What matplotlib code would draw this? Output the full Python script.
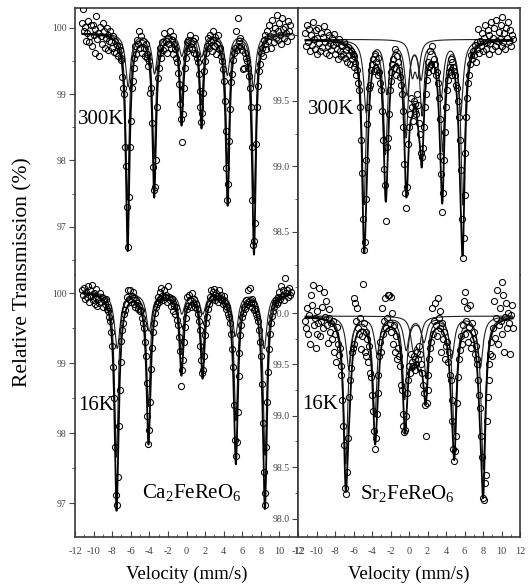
import numpy as np
import matplotlib
matplotlib.use("Agg")
import matplotlib.pyplot as plt
from matplotlib.ticker import MultipleLocator, FormatStrFormatter

plt.rcParams['font.family'] = ['Liberation Serif', 'DejaVu Serif']
plt.rcParams['mathtext.fontset'] = 'custom'
plt.rcParams['mathtext.rm'] = 'Liberation Serif'
plt.rcParams['mathtext.it'] = 'Liberation Serif'
plt.rcParams['axes.unicode_minus'] = False

# ---------------- channel velocity scale (mm/s) ----------------
vel_start = -11.2
vel_step = 0.1
n_channels = 225

# ---------------- measured spectra (relative transmission, %) ----------------
ca300_y = [
    100.08, 100.28, 99.95, 100.02, 99.80, 99.93, 100.10, 99.78, 99.88, 100.04,
    99.72, 100.05, 99.90, 99.62, 99.98, 100.18, 99.83, 99.92, 99.58, 100.02,
    99.88, 99.75, 100.08, 99.95, 99.70, 99.85, 100.00, 99.66, 99.90, 99.80,
    99.95, 99.78, 99.70, 99.88, 99.64, 99.80, 99.62, 99.74, 99.58, 99.72,
    99.66, 99.52, 99.55, 99.26, 99.10, 99.00, 98.20, 97.92, 97.30, 96.70,
    97.44, 98.20, 98.60, 99.10, 99.20, 99.40, 99.55, 99.72, 99.60, 99.82,
    99.75, 99.95, 99.70, 99.88, 99.62, 99.80, 99.70, 99.58, 99.76, 99.55,
    99.60, 99.42, 99.50, 99.02, 99.10, 98.56, 97.90, 97.55, 97.60, 98.00,
    98.80, 99.25, 99.40, 99.62, 99.70, 99.55, 99.78, 99.66, 99.92, 99.70,
    99.80, 99.62, 99.85, 99.76, 99.95, 99.70, 99.82, 99.60, 99.88, 99.75,
    99.68, 99.55, 99.48, 99.32, 99.15, 98.85, 98.62, 98.28, 98.70, 99.10,
    99.40, 99.55, 99.78, 99.65, 99.82, 99.70, 99.90, 99.75, 99.68, 99.80,
    99.62, 99.85, 99.60, 99.55, 99.48, 99.30, 99.05, 98.80, 98.58, 98.72,
    99.02, 99.35, 99.50, 99.62, 99.72, 99.85, 99.70, 99.90, 99.78, 99.65,
    99.82, 99.95, 99.72, 99.86, 99.60, 99.75, 99.90, 99.68, 99.70, 99.58,
    99.50, 99.38, 99.20, 98.90, 98.45, 97.88, 97.40, 97.65, 98.30, 98.78,
    99.18, 99.30, 99.52, 99.62, 99.70, 99.95, 99.66, 100.15, 99.80, 99.72,
    99.85, 99.72, 99.66, 99.38, 99.40, 99.62, 99.55, 99.50, 99.40, 99.28,
    99.10, 98.80, 98.20, 97.40, 96.72, 96.78, 97.05, 98.25, 98.80, 99.12,
    99.35, 99.45, 99.62, 99.70, 99.58, 99.82, 99.75, 99.90, 99.68, 99.95,
    99.80, 100.05, 99.88, 99.70, 100.12, 99.92, 99.78, 100.00, 99.85, 100.20,
    99.95, 99.82, 100.08, 99.90, 99.75, 100.15, 99.98, 99.85, 100.02, 99.92,
    99.80, 100.10, 99.95, 100.05, 99.88]

sr300_y = [
    100.02, 99.92, 100.08, 99.95, 100.05, 99.88, 100.00, 99.93, 100.10, 99.97,
    99.90, 100.04, 99.86, 99.98, 100.06, 99.94, 99.88, 100.02, 99.91, 99.99,
    100.07, 99.95, 99.87, 100.03, 99.92, 99.85, 100.00, 99.94, 99.89, 99.98,
    99.93, 100.01, 99.86, 99.95, 99.90, 99.82, 99.97, 99.88, 99.93, 99.84,
    99.92, 99.86, 99.95, 99.83, 99.89, 99.80, 99.91, 99.85, 99.78, 99.88,
    99.82, 99.86, 99.76, 99.84, 99.79, 99.70, 99.74, 99.64, 99.58, 99.45,
    99.20, 98.95, 98.60, 98.36, 98.42, 98.75, 99.05, 99.32, 99.45, 99.60,
    99.62, 99.74, 99.78, 99.82, 99.73, 99.86, 99.80, 99.74, 99.83, 99.70,
    99.72, 99.64, 99.58, 99.42, 99.20, 98.98, 98.86, 98.58, 99.15, 99.22,
    99.40, 99.58, 99.65, 99.72, 99.78, 99.82, 99.75, 99.90, 99.70, 99.84,
    99.80, 99.74, 99.68, 99.62, 99.55, 99.42, 99.30, 99.02, 98.80, 98.68,
    98.84, 99.17, 99.30, 99.40, 99.52, 99.45, 99.35, 99.50, 99.42, 99.48,
    99.40, 99.55, 99.47, 99.33, 99.25, 99.10, 99.07, 99.14, 99.30, 99.45,
    99.55, 99.66, 99.72, 99.80, 99.76, 99.88, 99.78, 99.92, 99.74, 99.82,
    99.78, 99.70, 99.72, 99.64, 99.52, 99.36, 99.08, 98.94, 98.65, 98.80,
    99.05, 99.26, 99.45, 99.58, 99.66, 99.72, 99.76, 99.82, 99.70, 99.80,
    99.76, 99.73, 99.70, 99.62, 99.60, 99.50, 99.38, 99.20, 98.97, 98.60,
    98.30, 98.45, 98.78, 99.10, 99.38, 99.52, 99.64, 99.70, 99.78, 99.85,
    99.82, 99.88, 99.85, 99.93, 99.80, 99.95, 99.90, 100.05, 99.87, 99.96,
    99.92, 100.02, 99.88, 99.98, 100.08, 99.90, 99.95, 100.04, 99.86, 100.00,
    99.94, 100.10, 99.90, 99.98, 100.06, 99.92, 100.12, 99.96, 99.88, 100.03,
    99.97, 100.08, 99.92, 100.14, 99.95, 100.02, 99.90, 100.06, 99.98, 100.10,
    99.95, 100.04, 99.92, 100.00, 99.97]

ca16_y = [
    100.05, 99.98, 100.08, 99.92, 100.02, 99.95, 100.10, 99.88, 100.04, 99.96,
    100.12, 99.90, 100.00, 99.85, 99.94, 100.06, 99.82, 99.92, 99.86, 100.00,
    99.88, 99.95, 99.80, 99.90, 99.84, 99.92, 99.78, 99.74, 99.80, 99.66,
    99.60, 99.45, 99.25, 98.95, 98.50, 97.80, 97.12, 96.98, 97.38, 98.10,
    98.62, 99.02, 99.32, 99.48, 99.58, 99.70, 99.76, 99.85, 99.95, 100.05,
    99.92, 100.05, 99.88, 99.96, 100.02, 99.85, 99.94, 99.80, 99.90, 99.86,
    99.78, 99.82, 99.74, 99.76, 99.65, 99.58, 99.50, 99.30, 99.10, 98.72,
    98.25, 97.85, 98.05, 98.45, 98.92, 99.22, 99.45, 99.58, 99.72, 99.80,
    99.85, 99.95, 99.88, 100.02, 99.92, 100.08, 99.96, 99.90, 100.05, 99.94,
    99.98, 99.88, 100.10, 99.95, 99.90, 99.82, 99.92, 99.86, 99.75, 99.82,
    99.70, 99.80, 99.62, 99.55, 99.38, 99.18, 98.68, 98.90, 99.05, 99.30,
    99.52, 99.65, 99.78, 99.95, 99.82, 99.98, 99.90, 99.80, 100.00, 99.86,
    99.92, 99.80, 99.85, 99.78, 99.70, 99.60, 99.48, 99.25, 99.05, 98.86,
    98.90, 99.10, 99.40, 99.58, 99.66, 99.78, 99.85, 99.95, 100.05, 99.92,
    100.02, 99.95, 100.06, 99.90, 100.00, 99.96, 99.88, 100.04, 99.92, 99.98,
    99.90, 99.84, 99.96, 99.86, 99.82, 99.78, 99.80, 99.70, 99.66, 99.58,
    99.42, 99.20, 98.95, 98.40, 97.90, 97.68, 97.88, 98.30, 98.82, 99.15,
    99.40, 99.55, 99.66, 99.72, 99.80, 99.78, 99.90, 99.85, 100.05, 99.88,
    100.08, 99.86, 99.92, 99.80, 99.86, 99.76, 99.78, 99.70, 99.66, 99.60,
    99.48, 99.30, 99.10, 98.70, 98.15, 97.45, 96.98, 97.15, 97.80, 98.45,
    98.88, 99.20, 99.42, 99.58, 99.68, 99.75, 99.80, 99.86, 99.90, 99.84,
    99.95, 99.88, 100.02, 99.92, 100.10, 99.96, 100.05, 99.90, 100.22, 100.00,
    100.04, 99.94, 100.08, 99.98, 100.02]

sr16_y = [
    99.92, 99.85, 100.05, 99.80, 99.98, 99.70, 100.18, 100.08, 100.27, 99.88,
    99.95, 99.66, 99.80, 100.02, 99.90, 100.24, 99.78, 99.92, 100.06, 99.85,
    100.20, 99.96, 100.12, 99.88, 99.71, 99.95, 100.04, 99.82, 99.90, 99.75,
    99.92, 99.62, 99.80, 99.52, 99.86, 99.70, 99.59, 99.66, 99.48, 99.40,
    99.15, 98.90, 98.72, 98.30, 98.24, 98.45, 98.78, 99.18, 99.35, 99.46,
    99.62, 99.66, 99.70, 100.15, 100.10, 99.92, 100.05, 99.85, 99.80, 99.95,
    99.65, 99.78, 100.28, 99.90, 99.62, 99.82, 99.58, 99.75, 99.52, 99.68,
    99.42, 99.38, 99.20, 99.05, 98.85, 98.68, 98.78, 99.02, 99.22, 99.40,
    99.58, 99.72, 99.62, 100.05, 99.80, 99.92, 100.15, 99.85, 99.95, 100.18,
    100.18, 99.90, 100.16, 99.82, 100.00, 99.70, 99.88, 99.62, 99.78, 99.55,
    99.66, 99.58, 99.48, 99.30, 99.25, 99.02, 98.90, 98.84, 98.86, 99.00,
    99.22, 99.35, 99.48, 99.42, 99.60, 99.52, 99.48, 99.58, 99.45, 99.55,
    99.50, 99.62, 99.55, 99.68, 99.60, 99.50, 99.42, 99.30, 99.22, 99.10,
    98.80, 99.12, 99.25, 99.40, 99.55, 99.66, 99.72, 100.05, 99.80, 99.92,
    100.10, 99.88, 99.78, 100.15, 99.95, 99.85, 100.02, 99.62, 99.90, 99.75,
    99.82, 99.55, 99.68, 99.72, 99.52, 99.62, 99.40, 99.35, 99.15, 98.95,
    98.68, 98.56, 98.66, 98.80, 99.12, 99.38, 99.55, 99.64, 99.78, 99.70,
    99.88, 100.12, 99.80, 100.20, 99.92, 100.05, 99.72, 99.86, 100.08, 99.66,
    99.90, 99.75, 99.82, 99.60, 99.68, 99.50, 99.55, 99.35, 99.20, 99.08,
    98.80, 98.60, 98.20, 98.18, 98.35, 98.42, 98.95, 99.18, 99.35, 99.50,
    99.60, 99.72, 99.58, 99.85, 100.12, 99.76, 99.95, 100.22, 99.70, 99.88,
    100.05, 99.92, 100.30, 99.80, 100.18, 99.62, 99.96, 100.10, 99.85, 100.00,
    99.90, 99.60, 99.98, 100.08, 99.85]

# ---------------- fitted subspectra (line position mm/s, depth %, half width mm/s) ----------------
ca300_base = 99.92
ca300_s1_pos = [-6.35, -3.48, -0.54, 1.61, 4.43, 7.27]
ca300_s1_dep = [2.50, 1.85, 1.02, 1.05, 1.95, 2.55]
ca300_s1_hw = 0.22
ca300_s2_pos = [-6.28, -3.44, -0.50, 1.64, 4.39, 7.20]
ca300_s2_dep = [0.80, 0.60, 0.33, 0.34, 0.62, 0.80]
ca300_s2_hw = 0.32

sr300_base = 99.97
sr300_s1_pos = [-4.87, -2.54, -0.31, 1.41, 3.62, 5.82]
sr300_s1_dep = [1.25, 0.85, 0.72, 0.55, 0.83, 1.25]
sr300_s1_hw = 0.26
sr300_s2_pos = [-4.62, -2.38, -0.20, 1.30, 3.48, 5.58]
sr300_s2_dep = [0.55, 0.40, 0.40, 0.28, 0.42, 0.56]
sr300_s2_hw = 0.32
sr300_s3_pos = [0.35, 0.95]
sr300_s3_dep = [0.25, 0.25]
sr300_s3_hw = 0.30

ca16_base = 100.02
ca16_s1_pos = [-7.54, -4.10, -0.55, 1.72, 5.32, 8.45]
ca16_s1_dep = [2.35, 1.62, 0.86, 0.90, 1.82, 2.32]
ca16_s1_hw = 0.24
ca16_s2_pos = [-7.45, -4.02, -0.50, 1.76, 5.26, 8.36]
ca16_s2_dep = [0.80, 0.55, 0.30, 0.30, 0.62, 0.80]
ca16_s2_hw = 0.36

sr16_base = 99.97
sr16_s1_pos = [-6.84, -3.69, -0.46, 1.84, 4.91, 8.03]
sr16_s1_dep = [1.43, 0.96, 0.79, 0.58, 1.12, 1.48]
sr16_s1_hw = 0.28
sr16_s2_pos = [-6.50, -3.45, -0.30, 1.62, 4.62, 7.70]
sr16_s2_dep = [0.50, 0.36, 0.32, 0.24, 0.40, 0.50]
sr16_s2_hw = 0.35
sr16_s3_pos = [0.45, 1.05]
sr16_s3_dep = [0.28, 0.28]
sr16_s3_hw = 0.32

temp_labels = ["300K", "300K", "16K", "16K"]
compound_labels = [r"Ca$_2$FeReO$_6$", r"Sr$_2$FeReO$_6$"]
x_ticks = [-12, -10, -8, -6, -4, -2, 0, 2, 4, 6, 8, 10, 12]


def absorption(v, pos, dep, hw):
    out = np.zeros_like(v)
    for p, d in zip(pos, dep):
        out += d * hw ** 2 / ((v - p) ** 2 + hw ** 2)
    return out


velocity = vel_start + vel_step * np.arange(n_channels)
vfine = np.linspace(vel_start, vel_start + vel_step * (n_channels - 1), 2500)

W, H = 528, 586
fig = plt.figure(figsize=(W / 100, H / 100), dpi=100)


def fax(x0, y0, x1, y1):
    return fig.add_axes([x0 / W, 1 - y1 / H, (x1 - x0) / W, (y1 - y0) / H])


xl, xm, xr = 75, 298, 520
yt, ymid, yb = 8, 275, 537

panels = [
    dict(rect=(xl, yt, xm, ymid), y=ca300_y, base=ca300_base,
         subs=[(ca300_s1_pos, ca300_s1_dep, ca300_s1_hw), (ca300_s2_pos, ca300_s2_dep, ca300_s2_hw)],
         ylim=(96.27, 100.30), major=1.0, minor=0.5, fmt="%d", top=True,
         tlabel=(0.012, 0.584)),
    dict(rect=(xm, yt, xr, ymid), y=sr300_y, base=sr300_base,
         subs=[(sr300_s1_pos, sr300_s1_dep, sr300_s1_hw), (sr300_s2_pos, sr300_s2_dep, sr300_s2_hw),
               (sr300_s3_pos, sr300_s3_dep, sr300_s3_hw)],
         ylim=(98.17, 100.21), major=0.5, minor=0.25, fmt="%.1f", top=True,
         tlabel=(0.045, 0.618)),
    dict(rect=(xl, ymid, xm, yb), y=ca16_y, base=ca16_base,
         subs=[(ca16_s1_pos, ca16_s1_dep, ca16_s1_hw), (ca16_s2_pos, ca16_s2_dep, ca16_s2_hw)],
         ylim=(96.52, 100.26), major=1.0, minor=0.5, fmt="%d", top=False,
         tlabel=(0.012, 0.50)),
    dict(rect=(xm, ymid, xr, yb), y=sr16_y, base=sr16_base,
         subs=[(sr16_s1_pos, sr16_s1_dep, sr16_s1_hw), (sr16_s2_pos, sr16_s2_dep, sr16_s2_hw),
               (sr16_s3_pos, sr16_s3_dep, sr16_s3_hw)],
         ylim=(97.82, 100.37), major=0.5, minor=0.25, fmt="%.1f", top=False,
         tlabel=(0.018, 0.505)),
]

spine_col = '#3a3a3a'
tick_col = '#444444'
axes = []
for i, pn in enumerate(panels):
    ax = fax(*pn['rect'])
    axes.append(ax)
    total = np.zeros_like(vfine)
    for pos, dep, hw in pn['subs']:
        comp = absorption(vfine, pos, dep, hw)
        total += comp
        ax.plot(vfine, pn['base'] - comp, color='#202020', lw=0.8, zorder=2)
    ax.plot(vfine, pn['base'] - total, color='black', lw=1.3, zorder=3)
    ax.plot(velocity, pn['y'], linestyle='none', marker='o', ms=4.4,
            mfc='none', mec='black', mew=0.75, zorder=4)
    ax.set_xlim(-12, 12)
    ax.set_ylim(*pn['ylim'])
    ax.yaxis.set_major_locator(MultipleLocator(pn['major']))
    ax.yaxis.set_minor_locator(MultipleLocator(pn['minor']))
    ax.yaxis.set_major_formatter(FormatStrFormatter(pn['fmt']))
    ax.set_xticks(x_ticks)
    ax.xaxis.set_minor_locator(MultipleLocator(1))
    ax.tick_params(axis='y', which='major', direction='out', length=4, width=0.8,
                   labelsize=7, colors=tick_col, pad=2)
    ax.tick_params(axis='y', which='minor', direction='out', length=2, width=0.6, colors=tick_col)
    ax.tick_params(axis='x', which='major', direction='in', length=4, width=0.8,
                   labelsize=7.5, colors=tick_col, pad=7)
    ax.tick_params(axis='x', which='minor', direction='in', length=2, width=0.6, colors=tick_col)
    for s in ax.spines.values():
        s.set_color(spine_col)
        s.set_linewidth(1.2)
    if pn['top']:
        ax.spines['bottom'].set_visible(False)
        ax.tick_params(axis='x', which='both', bottom=False, labelbottom=False)
    else:
        ax.spines['top'].set_visible(False)
        ax.set_xlabel("Velocity (mm/s)", fontsize=13.5, labelpad=7)
    ax.text(pn['tlabel'][0], pn['tlabel'][1], temp_labels[i], transform=ax.transAxes,
            fontsize=15, ha='left', va='center')

axes[2].text(0.30, 0.17, compound_labels[0], transform=axes[2].transAxes,
             fontsize=15, ha='left', va='center')
axes[3].text(0.28, 0.165, compound_labels[1], transform=axes[3].transAxes,
             fontsize=15, ha='left', va='center')

fig.text(23 / W, 1 - 272 / H, "Relative Transmission (%)", rotation=90,
         fontsize=15.5, ha='center', va='center')

fig.savefig("out.png", dpi=100)
